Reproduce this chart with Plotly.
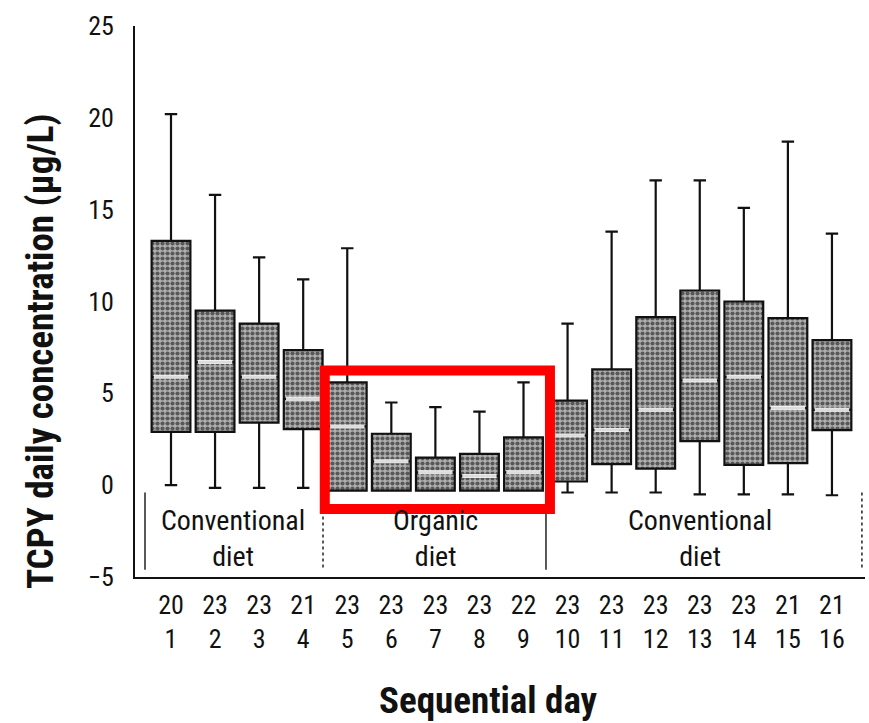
import plotly.graph_objects as go

# ---------------- data ----------------
days = list(range(1, 17))
n_obs = [20, 23, 23, 21, 23, 23, 23, 23, 22, 23, 23, 23, 23, 23, 21, 21]
q1 = [2.9, 2.9, 3.4, 3.05, -0.3, -0.3, -0.3, -0.3, -0.3, 0.2, 1.15, 0.9, 2.4, 1.1, 1.2, 3.0]
median = [5.9, 6.7, 5.9, 4.7, 3.2, 1.3, 0.7, 0.5, 0.7, 2.7, 3.0, 4.1, 5.7, 5.9, 4.2, 4.1]
q3 = [13.3, 9.5, 8.8, 7.35, 5.6, 2.8, 1.5, 1.7, 2.6, 4.6, 6.3, 9.15, 10.6, 10.0, 9.1, 7.9]
lower = [0.0, -0.15, -0.15, -0.15, -0.3, -0.3, -0.3, -0.3, -0.3, -0.4, -0.4, -0.4, -0.5, -0.5, -0.5, -0.55]
upper = [20.2, 15.8, 12.4, 11.2, 12.9, 4.5, 4.25, 4.0, 5.6, 8.8, 13.8, 16.6, 16.6, 15.1, 18.7, 13.7]

diet_labels = ["Conventional<br>diet", "Organic<br>diet", "Conventional<br>diet"]
diet_periods = [(1, 4), (5, 9), (10, 16)]
highlight_period = (5, 9)

y_title = "TCPY daily concentration (\u03bcg/L)"
x_title = "Sequential day"
tick_text = [f"{n}<br>{d}" for n, d in zip(n_obs, days)]

# ---------------- style ----------------
FONT = "Liberation Sans Narrow, Roboto Condensed, DejaVu Sans Condensed, Arial Narrow, sans-serif"
BOXW = 0.88

fig = go.Figure()

# stippled box bodies
fig.add_trace(go.Bar(
    x=days, y=[b - a for a, b in zip(q1, q3)], base=q1, width=BOXW,
    marker=dict(color="#999999",
                pattern=dict(shape=".", fgcolor="#000000", bgcolor="#b0b0b0", size=5, solidity=0.55),
                line=dict(width=0)),
    hoverinfo="skip", showlegend=False))

# outlines + whiskers
fig.add_trace(go.Box(
    x=days, q1=q1, median=median, q3=q3, lowerfence=lower, upperfence=upper,
    width=BOXW, whiskerwidth=0.32, fillcolor="rgba(0,0,0,0)",
    line=dict(color="#111111", width=2.2), boxpoints=False, showlegend=False))

# white median lines
mx, my = [], []
for d, m in zip(days, median):
    mx += [d - BOXW / 2 + 0.05, d + BOXW / 2 - 0.05, None]
    my += [m, m, None]
fig.add_trace(go.Scatter(x=mx, y=my, mode="lines", line=dict(color="rgba(255,255,255,0.85)", width=4),
                         hoverinfo="skip", showlegend=False))

shapes = []
# period dividers
div_specs = [(diet_periods[0][0] - 0.59, "solid"),
             (diet_periods[1][0] - 0.55, "dot"),
             (diet_periods[2][0] - 0.49, "solid"),
             (diet_periods[2][1] + 0.68, "dot")]
for xv, dash in div_specs:
    shapes.append(dict(type="line", xref="x", yref="y", x0=xv, x1=xv, y0=-0.4, y1=-4.6,
                       line=dict(color="#222", width=1.5, dash=dash)))

# red highlight rectangle
shapes.append(dict(type="rect", xref="x", yref="y",
                   x0=highlight_period[0] - 0.51, x1=highlight_period[1] + 0.6,
                   y0=-1.3, y1=6.25, line=dict(color="#ff0000", width=10), fillcolor="rgba(0,0,0,0)"))

annotations = []
for lab, (a, b) in zip(diet_labels, diet_periods):
    annotations.append(dict(x=(a + b) / 2 + (-0.1 if a == 1 else 0), y=-2.9, xref="x", yref="y",
                            text=lab, showarrow=False,
                            font=dict(family=FONT, size=28, color="#111")))

# axis titles (placed as annotations to match the original's offsets)
annotations.append(dict(x=40, y=352, xref="paper", yref="paper", text=y_title, showarrow=False,
                        textangle=-90, font=dict(family=FONT, size=37, color="#111", weight="bold")))
annotations.append(dict(x=488, y=700, xref="paper", yref="paper", text=x_title, showarrow=False,
                        font=dict(family=FONT, size=37, color="#111", weight="bold")))

fig.update_layout(
    width=869, height=723,
    margin=dict(l=135, r=4, t=26, b=146),
    paper_bgcolor="white", plot_bgcolor="white",
    shapes=shapes, bargap=0, showlegend=False,
    font=dict(family=FONT, color="#111"),
)
# convert pixel-based title positions to paper coordinates
W, H = 869, 723
pl, pr, pt, pb = 135, 4, 26, 146
pw, ph = W - pl - pr, H - pt - pb
for ann in annotations:
    if ann.get("xref") == "paper":
        ann["x"] = (ann["x"] - pl) / pw
        ann["y"] = (H - pb - ann["y"]) / ph
        ann["xanchor"] = "center"
        ann["yanchor"] = "middle"
fig.update_layout(annotations=annotations)

fig.update_xaxes(range=[0.183, 16.75], tickmode="array", tickvals=days, ticktext=tick_text,
                 tickfont=dict(family=FONT, size=26, color="#111"), ticks="", showgrid=False,
                 zeroline=False, showline=True, linecolor="#111", linewidth=2, ticklabelstandoff=4)
fig.update_yaxes(range=[-5, 25], tickvals=[-5, 0, 5, 10, 15, 20, 25],
                 tickfont=dict(family=FONT, size=26, color="#111"), ticks="", showgrid=False,
                 zeroline=False, showline=True, linecolor="#111", linewidth=2, ticklabelstandoff=14)

fig.write_html("out.html")
